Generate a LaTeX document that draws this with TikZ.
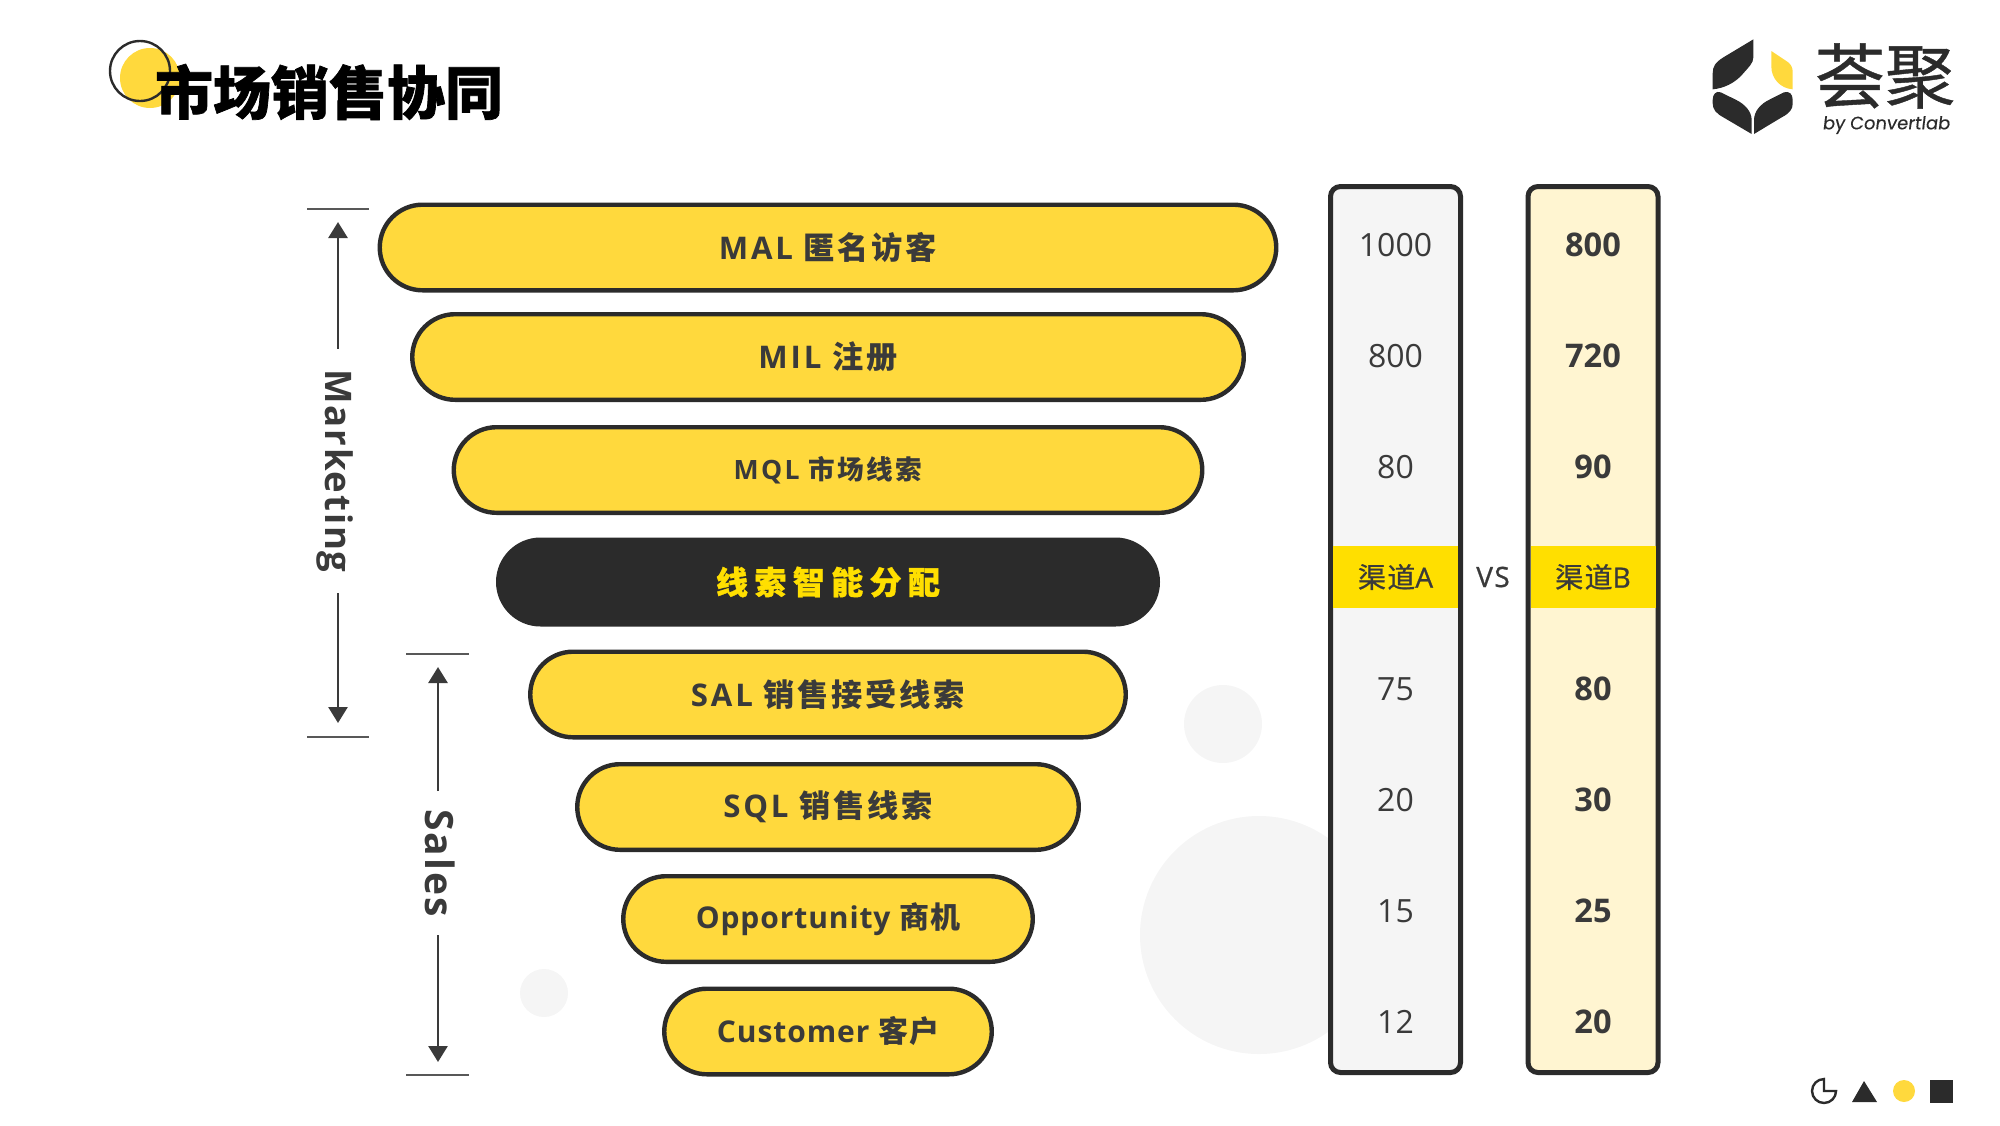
\documentclass[tikz,border=0pt]{standalone}
\usepackage{fontspec}
\setmainfont{Open Sans}
\newfontfamily\logofont[FakeSlant=0.12, FakeBold=0.3]{Poppins}
\newfontfamily\cjk[LetterSpace=9]{Noto Sans CJK SC}
\newfontfamily\cjktight[LetterSpace=3]{Noto Sans CJK SC}
\newfontfamily\cjkwide[LetterSpace=20, FakeBold=1]{Noto Sans CJK SC}
\newfontfamily\cjkplain{Noto Sans CJK SC}
\newfontfamily\cjkmid[LetterSpace=5, FakeBold=0.8]{Noto Sans CJK SC}
\newfontfamily\latinmid[LetterSpace=5, FakeBold=0.8]{Open Sans}
\usetikzlibrary{shapes.misc}
\usetikzlibrary{arrows.meta}

\definecolor{inkdark}{HTML}{2B2B2B}
\definecolor{inktext}{HTML}{3A3A3A}
\definecolor{pillyellow}{HTML}{FFD93D}
\definecolor{bandyellow}{HTML}{FFDF00}
\definecolor{softgrey}{HTML}{F5F5F5}
\definecolor{softyellow}{HTML}{FFF5D1}

\tikzset{
  pill/.style={rounded rectangle, draw=inkdark, line width=2.2pt, fill=pillyellow, minimum height=42.8pt, text=inktext, inner sep=0pt, font=\fontsize{15.6}{17}\selectfont\bfseries\addfontfeature{LetterSpace=9}},
  column/.style={rectangle, draw=inkdark, line width=2.5pt, rounded corners=5pt, minimum width=65pt, minimum height=443pt},
  band/.style={rectangle, fill=bandyellow, minimum width=62.5pt, minimum height=31pt, inner sep=0pt, text=inktext, font=\fontsize{14}{15}\selectfont\latinmid},
  valA/.style={text=inktext, inner sep=0pt, font=\fontsize{16}{18}\selectfont},
  valB/.style={text=inktext, inner sep=0pt, font=\fontsize{16.3}{18}\selectfont\bfseries},
  side/.style={text=inktext, rotate=-90, inner ysep=0pt, inner xsep=10pt, text height=13pt, text depth=0pt, font=\fontsize{18.3}{20}\selectfont\bfseries\addfontfeature{LetterSpace=5}},
  span/.style={draw=inktext, line width=1.4pt, -{Triangle[length=8pt,width=9.5pt]}},
  tick/.style={draw=inktext!85, line width=1.3pt},
  blob/.style={circle, fill=softgrey, inner sep=0pt}
}

\begin{document}
\begin{tikzpicture}[x=0.5pt, y=-0.5pt]
\useasboundingbox (0,0) rectangle (2000,1125);

\node[circle, fill=pillyellow, minimum size=30pt, inner sep=0pt] (dotyellow) at (150,78) {};
\node[circle, draw=inkdark, line width=1.2pt, minimum size=30pt, inner sep=0pt] (dotring) at (140,71) {};
\node[anchor=center, inner sep=0pt, text=black, font=\fontsize{29}{32}\selectfont\cjkplain\bfseries\addfontfeature{FakeBold=1.2}] (title) at (329,92) {市场销售协同};

\begin{scope}[shift={(1680,20)}, x=0.16667pt, y=-0.16667pt]
\fill[inkdark] (220,58) -- (130,112) .. controls (105,128) and (98,140) .. (98,160) -- (98,208) .. controls (130,205) and (165,190) .. (190,160) .. controls (205,142) and (220,130) .. (220,112) -- cycle;
\fill[pillyellow] (274,93) -- (322,125) .. controls (332,132) and (338,142) .. (338,155) -- (338,208) .. controls (300,205) and (274,175) .. (274,140) -- cycle;
\fill[inkdark] (98,240) .. controls (98,222) and (108,212) .. (122,217) -- (165,238) .. controls (195,252) and (215,275) .. (215,300) -- (215,342) -- (130,292) .. controls (108,280) and (98,268) .. (98,250) -- cycle;
\fill[inkdark] (222,342) -- (222,300) .. controls (222,275) and (240,252) .. (270,238) -- (312,217) .. controls (328,212) and (338,222) .. (338,240) -- (338,252) .. controls (338,268) and (328,280) .. (305,292) -- cycle;
\end{scope}
\node[anchor=center, inner sep=0pt, text=inkdark, font=\fontsize{35}{37}\selectfont\cjkplain\addfontfeature{FakeBold=0.6}] (logoname) at (1885,76) {荟聚};
\node[anchor=center, inner sep=0pt, text=inkdark, font=\logofont\fontsize{9}{11}\selectfont] (logoby) at (1886,125) {by Convertlab};

\node[blob, minimum size=119pt] (blobbig) at (1259,935) {};
\node[blob, minimum size=39pt] (blobmid) at (1223,724) {};
\node[blob, minimum size=24pt] (blobsmall) at (544,993) {};

\node[pill, minimum width=448.25pt] (mal) at (828,247.5) {MAL {\cjk 匿名访客}};
\node[pill, minimum width=415.75pt] (mil) at (828,357) {MIL {\cjk 注册}};
\node[pill, minimum width=374.25pt, font=\fontsize{13.3}{15}\selectfont\bfseries\addfontfeature{LetterSpace=9}] (mql) at (828,470) {MQL {\cjk 市场线索}};
\node[rounded rectangle, fill=inkdark, minimum width=332pt, minimum height=44.5pt, inner sep=0pt, text=bandyellow, font=\fontsize{16}{18}\selectfont\bfseries] (assign) at (828,582) {{\cjkwide 线索智能分配}};
\node[pill, minimum width=297.75pt] (sal) at (828,694.5) {SAL {\cjk 销售接受线索}};
\node[pill, minimum width=250.75pt] (sql) at (828,807) {SQL {\cjk 销售线索}};
\node[pill, minimum width=204.75pt, font=\fontsize{15}{17}\selectfont\bfseries\addfontfeature{LetterSpace=3}] (opp) at (828,919) {Opportunity {\cjktight 商机}};
\node[pill, minimum width=163.75pt, font=\fontsize{15}{17}\selectfont\bfseries\addfontfeature{LetterSpace=3}] (cust) at (828,1031.5) {Customer {\cjktight 客户}};

\coordinate (mkttop) at (338,222);
\coordinate (mktbot) at (338,723);
\coordinate (saltop) at (438,667);
\coordinate (salbot) at (438,1062);
\node[side] (mkt) at (338,471) {Marketing};
\node[side, font=\fontsize{19.5}{21}\selectfont\bfseries\addfontfeature{LetterSpace=5}, inner xsep=9pt] (sales) at (438,863) {Sales};
\draw[span] (mkt.west) -- (mkttop);
\draw[span] (mkt.east) -- (mktbot);
\draw[span] (sales.west) -- (saltop);
\draw[span] (sales.east) -- (salbot);
\draw[tick] (307,209) -- (369,209);
\draw[tick] (307,737) -- (369,737);
\draw[tick] (406,654) -- (469,654);
\draw[tick] (406,1075) -- (469,1075);

\node[column, fill=softgrey] (cola) at (1395.5,629.5) {};
\node[column, fill=softyellow] (colb) at (1593,629.5) {};
\node[band] (banda) at (1395.5,577) {{\cjkmid 渠道}A};
\node[band] (bandb) at (1593,577) {{\cjkmid 渠道}B};
\node[valA, font=\fontsize{14}{16}\selectfont\latinmid] (vs) at (1493,577) {VS};

\node[valA] (a1) at (1395.5,245) {1000};
\node[valA] (a2) at (1395.5,356) {800};
\node[valA] (a3) at (1395.5,467) {80};
\node[valA] (a4) at (1395.5,689) {75};
\node[valA] (a5) at (1395.5,800) {20};
\node[valA] (a6) at (1395.5,911) {15};
\node[valA] (a7) at (1395.5,1022) {12};

\node[valB] (b1) at (1593,245) {800};
\node[valB] (b2) at (1593,356) {720};
\node[valB] (b3) at (1593,467) {90};
\node[valB] (b4) at (1593,689) {80};
\node[valB] (b5) at (1593,800) {30};
\node[valB] (b6) at (1593,911) {25};
\node[valB] (b7) at (1593,1022) {20};

\draw[inkdark, line width=1.2pt] (1824,1091) -- (1824,1079) arc[start angle=-90, end angle=-360, radius=12] -- cycle;
\fill[inkdark] (1852,1102) -- (1864,1081) -- (1877,1102) -- cycle;
\node[circle, fill=pillyellow, minimum size=11pt, inner sep=0pt] (dotfoot) at (1904,1091) {};
\fill[inkdark] (1930,1080) rectangle (1953,1103);
\end{tikzpicture}
\end{document}
